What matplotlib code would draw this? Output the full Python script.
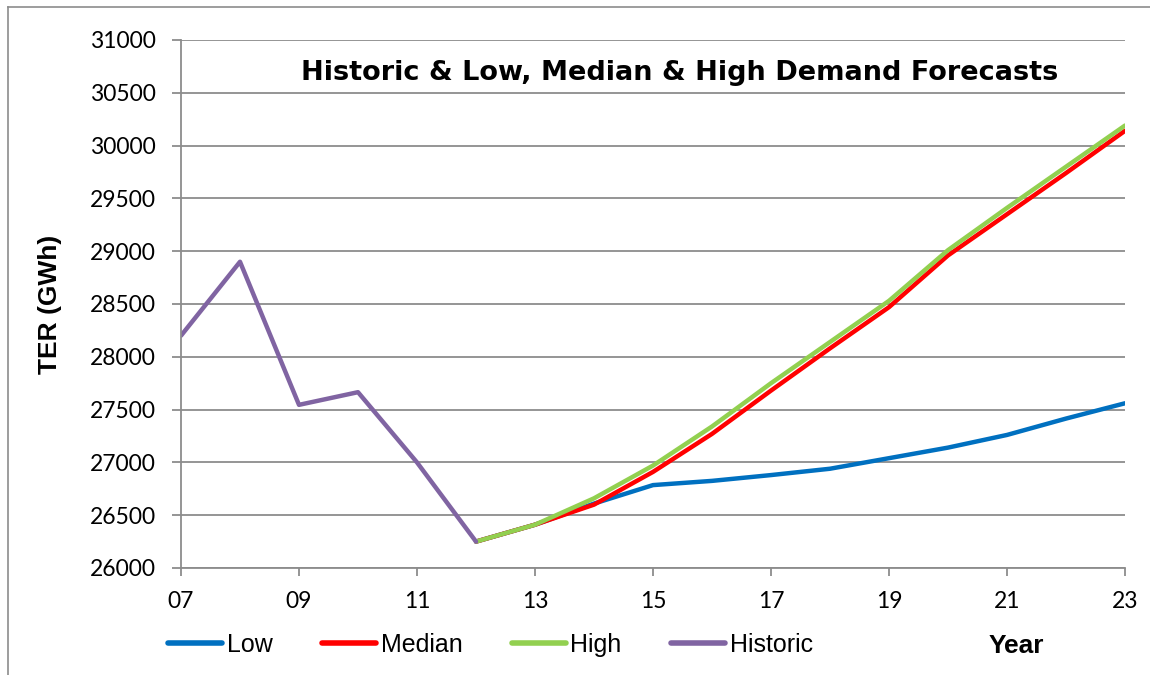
import numpy as np
import matplotlib.pyplot as plt
from matplotlib.lines import Line2D

plt.rcParams['font.family'] = ['Liberation Sans', 'DejaVu Sans']

# historic energy requirement and the three forecast scenarios (GWh)
hist_years = [7, 8, 9, 10, 11, 12]
historic = [28200, 28900, 27545, 27665, 27000, 26250]

fc_years = [12, 13, 14, 15, 16, 17, 18, 19, 20, 21, 22, 23]
low = [26250, 26410, 26610, 26785, 26825, 26880, 26940, 27040, 27140, 27260, 27415, 27560]
median = [26250, 26410, 26600, 26910, 27270, 27680, 28080, 28470, 28960, 29350, 29740, 30140]
high = [26250, 26410, 26660, 26970, 27340, 27750, 28140, 28530, 29010, 29410, 29800, 30190]

xticks = [7, 9, 11, 13, 15, 17, 19, 21, 23]
xlabels = ['07', '09', '11', '13', '15', '17', '19', '21', '23']

W, H = 1150, 675
fig = plt.figure(figsize=(W / 100, H / 100), dpi=100)
ax = fig.add_axes([181 / W, 1 - 568 / H, (1125 - 181) / W, (568 - 40) / H])

grid_c = '#8c8c8c'
ax.plot(fc_years, low, color='#0070C0', lw=3.2, solid_capstyle='round', label='Low')
ax.plot(fc_years, median, color='#FF0000', lw=3.2, solid_capstyle='round', label='Median')
ax.plot(fc_years, high, color='#92D050', lw=3.2, solid_capstyle='round', label='High')
ax.plot(hist_years, historic, color='#8064A2', lw=3.2, solid_capstyle='round', label='Historic')

ax.set_xlim(7, 23)
ax.set_ylim(26000, 31000)
ax.set_yticks(np.arange(26000, 31001, 500))
ax.set_xticks(xticks)
ax.set_xticklabels(xlabels)
ax.yaxis.grid(True, color=grid_c, lw=1.3)
ax.set_axisbelow(True)
for s in ['top', 'right']:
    ax.spines[s].set_visible(False)
for s in ['left', 'bottom']:
    ax.spines[s].set_color(grid_c)
    ax.spines[s].set_linewidth(1.3)
ax.tick_params(axis='y', length=6.5, width=1.3, color=grid_c, labelsize=16.5, pad=11.5)
ax.tick_params(axis='x', length=5.8, width=1.3, color=grid_c, labelsize=16.5, pad=11)
for t in ax.get_xticklabels() + ax.get_yticklabels():
    t.set_family('Lato')

ax.set_ylabel('TER (GWh)', fontsize=19, fontweight='bold')
ax.yaxis.set_label_coords(-(181 - 62) / (1125 - 181), 0.5)
fig.text(680 / W, 1 - 73 / H, 'Historic & Low, Median & High Demand Forecasts',
         ha='center', va='center', fontsize=19.5, fontweight='bold',
         family='DejaVu Sans')
fig.text(1016 / W, 1 - 646 / H, 'Year', ha='center', va='center',
         fontsize=19, fontweight='bold')

handles = [Line2D([], [], color=l.get_color(), lw=4, solid_capstyle='round')
           for l in ax.get_lines()]
labels = [l.get_label() for l in ax.get_lines()]
fig.legend(handles, labels, loc='center left', bbox_to_anchor=(168 / W, 1 - 645 / H),
           borderaxespad=0, borderpad=0, ncol=4, frameon=False, fontsize=18,
           handlelength=2.16, handletextpad=0.2, columnspacing=1.96)

# chart frame edges
fig.add_artist(Line2D([8 / W, 1], [1 - 7 / H, 1 - 7 / H], color=grid_c, lw=1.2))
fig.add_artist(Line2D([8 / W, 8 / W], [1 - 7 / H, 0], color=grid_c, lw=1.2))

fig.savefig('out.png', dpi=100)
